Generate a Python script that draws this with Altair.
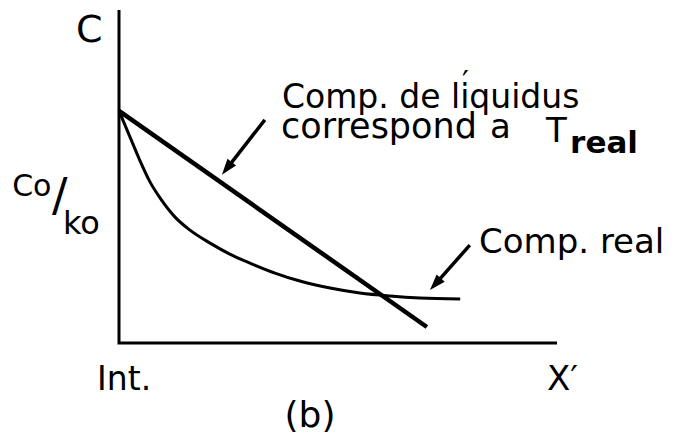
import altair as alt
import pandas as pd

# Solute concentration ahead of the solid/liquid interface (arbitrary units).
# x: distance X' from the interface (Int.), c: concentration C.
real_x = [0, 2.5, 4.8, 7.1, 9.4, 12.8, 16.2, 20.8, 25.3, 29.9, 35.6, 41.3,
          48.2, 55.0, 61.9, 68.7, 77.9]
real_c = [69.7, 61.9, 54.7, 48.3, 43.5, 37.8, 33.9, 30.0, 26.7, 24.0, 21.0, 18.6,
          16.5, 15.0, 14.1, 13.5, 13.2]

# Liquidus composition corresponding to the real temperature (straight line)
liq_x = [0, 70.3]
liq_c = [69.7, 4.8]

# Axis frame: C axis up the left, X' axis along the bottom
frame_x = [0, 0, 100]
frame_c = [100, 0, 0]

# Annotation arrows: tail -> tip
arrow_x0 = [33.3, 80.1]
arrow_c0 = [67.0, 29.4]
arrow_x1 = [23.5, 71.0]
arrow_c1 = [50.5, 15.9]
arrow_angle = [218, 222]

# Labels
label_text = ["C", "Co", "/", "ko", "Int.", "X′", "(b)",
              "Comp. de liquidus", "′", "correspond", "a", "T", "Comp. real"]
label_x = [-9.8, -24.4, -15.3, -12.8, -5.0, 97.7, 37.8,
           37.2, 78.3, 37.0, 84.7, 97.5, 82.2]
label_c = [90.4, 44.1, 39.6, 32.7, -14.1, -14.1, -25.2,
           70.6, 75.5, 61.6, 61.6, 60.4, 27.0]
label_size = [38, 30, 46, 32, 33, 34, 36,
              33, 30, 35, 34, 34, 34]

sub_text = ["real"]
sub_x = [103.0]
sub_c = [57.1]

FONT = "DejaVu Sans"
xs = alt.Scale(domain=[-27.17, 127.63], nice=False, zero=False)
ys = alt.Scale(domain=[-29.73, 103.0], nice=False, zero=False)


def X(field):
    return alt.X(field, type="quantitative", scale=xs, axis=None)


def Y(field):
    return alt.Y(field, type="quantitative", scale=ys, axis=None)


frame_df = pd.DataFrame({"x": frame_x, "c": frame_c, "i": range(len(frame_x))})
real_df = pd.DataFrame({"x": real_x, "c": real_c, "i": range(len(real_x))})
liq_df = pd.DataFrame({"x": liq_x, "c": liq_c, "i": range(len(liq_x))})

arrow_df = pd.DataFrame({"x0": arrow_x0, "c0": arrow_c0, "x1": arrow_x1,
                         "c1": arrow_c1, "angle": arrow_angle})
# shaft stops a little short of the tip so the head stays sharp
arrow_df["xs"] = arrow_df["x1"] + 0.15 * (arrow_df["x0"] - arrow_df["x1"])
arrow_df["cs"] = arrow_df["c1"] + 0.15 * (arrow_df["c0"] - arrow_df["c1"])

label_df = pd.DataFrame({"t": label_text, "x": label_x, "c": label_c, "s": label_size})
sub_df = pd.DataFrame({"t": sub_text, "x": sub_x, "c": sub_c})

frame = alt.Chart(frame_df).mark_line(color="black", strokeWidth=3, strokeJoin="miter").encode(
    x=X("x"), y=Y("c"), order="i:Q")

real = alt.Chart(real_df).mark_line(color="black", strokeWidth=3, interpolate="monotone").encode(
    x=X("x"), y=Y("c"), order="i:Q")

liq = alt.Chart(liq_df).mark_line(color="black", strokeWidth=4.5).encode(
    x=X("x"), y=Y("c"), order="i:Q")

shafts = alt.Chart(arrow_df).mark_rule(color="black", strokeWidth=3.5).encode(
    x=X("x0"), y=Y("c0"), x2="xs:Q", y2="cs:Q")

heads = alt.Chart(arrow_df).mark_point(
    shape="M0,0L-0.34,1L0.34,1Z", filled=True, color="black", opacity=1, size=1024
).encode(x=X("x1"), y=Y("c1"), angle=alt.Angle("angle:Q", scale=None))

labels = alt.Chart(label_df).mark_text(
    align="left", baseline="alphabetic", font=FONT, color="black"
).encode(x=X("x"), y=Y("c"), text="t:N", size=alt.Size("s:Q", scale=None))

sub = alt.Chart(sub_df).mark_text(
    align="left", baseline="alphabetic", font=FONT, fontSize=31, fontWeight="bold", color="black"
).encode(x=X("x"), y=Y("c"), text="t:N")

chart = alt.layer(frame, real, liq, shafts, heads, labels, sub).properties(
    width=678, height=442, autosize=alt.AutoSizeParams(type="none"), padding=0,
    background="white"
).configure_view(stroke=None)

chart.save("out.html", embed_options={"renderer": "svg", "actions": False})
